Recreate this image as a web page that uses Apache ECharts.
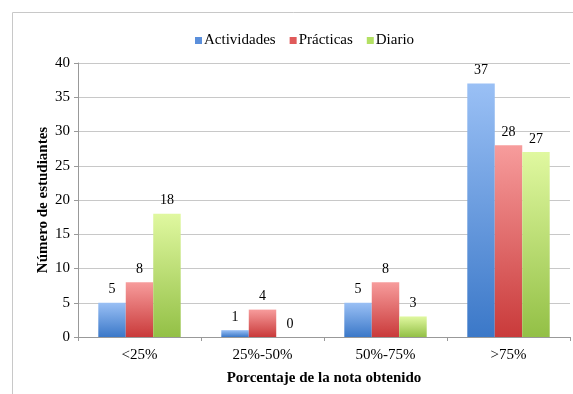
<!DOCTYPE html>
<html>
<head>
<meta charset="utf-8">
<script src="https://cdn.jsdelivr.net/npm/echarts@6/dist/echarts.min.js"></script>
<style>
html,body{margin:0;padding:0;background:#fff;}
#chart{width:573px;height:394px;}
</style>
</head>
<body>
<div id="chart"></div>
<script>
var categories = ['<25%', '25%-50%', '50%-75%', '>75%'];
var actividades = [5, 1, 5, 37];
var practicas = [8, 4, 8, 28];
var diario = [18, 0, 3, 27];
var seriesNames = ['Actividades', 'Prácticas', 'Diario'];

var font = 'Liberation Serif';

function grad(top, bottom) {
	return new echarts.graphic.LinearGradient(0, 0, 0, 1, [
		{offset: 0, color: top},
		{offset: 1, color: bottom}
	]);
}

function mkSeries(name, data, top, bottom) {
	return {
		name: name,
		type: 'bar',
		data: data,
		barGap: '0%',
		barCategoryGap: '33%',
		itemStyle: {color: grad(top, bottom)},
		label: {
			show: true,
			position: 'top',
			distance: 6,
			color: '#000',
			fontFamily: font,
			fontSize: 14
		}
	};
}

var myChart = echarts.init(document.getElementById('chart'));
myChart.setOption({
	animation: false,
	textStyle: {fontFamily: font},
	graphic: [{
		type: 'rect',
		shape: {x: 12.5, y: 12.5, width: 700, height: 500},
		style: {fill: 'none', stroke: '#c8c8c8', lineWidth: 1},
		silent: true
	}],
	legend: {
		top: 28,
		left: 190,
		icon: 'rect',
		itemWidth: 7,
		itemHeight: 7,
		itemGap: 14,
		textStyle: {fontFamily: font, fontSize: 15, color: '#000', padding: [0, 0, 0, -3]},
		data: [
			{name: 'Actividades', itemStyle: {color: '#5b8fdb'}},
			{name: 'Prácticas', itemStyle: {color: '#e05a5a'}},
			{name: 'Diario', itemStyle: {color: '#b3e063'}}
		]
	},
	grid: {left: 78, right: 3, top: 63, bottom: 57},
	xAxis: {
		type: 'category',
		data: categories,
		name: 'Porcentaje de la nota obtenido',
		nameLocation: 'middle',
		nameGap: 34,
		nameTextStyle: {fontFamily: font, fontSize: 15, fontWeight: 'bold', color: '#000'},
		axisLine: {lineStyle: {color: '#999'}},
		axisTick: {show: true, length: 4, lineStyle: {color: '#999'}},
		axisLabel: {fontFamily: font, fontSize: 15, color: '#000', margin: 11}
	},
	yAxis: {
		type: 'value',
		min: 0,
		max: 40,
		interval: 5,
		name: 'Número de estudiantes',
		nameLocation: 'middle',
		nameGap: 27,
		nameMoveOverlap: false,
		nameTextStyle: {fontFamily: font, fontSize: 15, fontWeight: 'bold', color: '#000'},
		axisLine: {show: true, lineStyle: {color: '#999'}},
		axisTick: {show: true, length: 4, lineStyle: {color: '#999'}},
		axisLabel: {fontFamily: font, fontSize: 15, color: '#000', margin: 8},
		splitLine: {lineStyle: {color: '#c8c8c8'}}
	},
	series: [
		mkSeries(seriesNames[0], actividades, '#9ac0f5', '#3b78c8'),
		mkSeries(seriesNames[1], practicas, '#f79c9c', '#c93a3a'),
		mkSeries(seriesNames[2], diario, '#e0f8a0', '#93c046')
	]
});
</script>
</body>
</html>
